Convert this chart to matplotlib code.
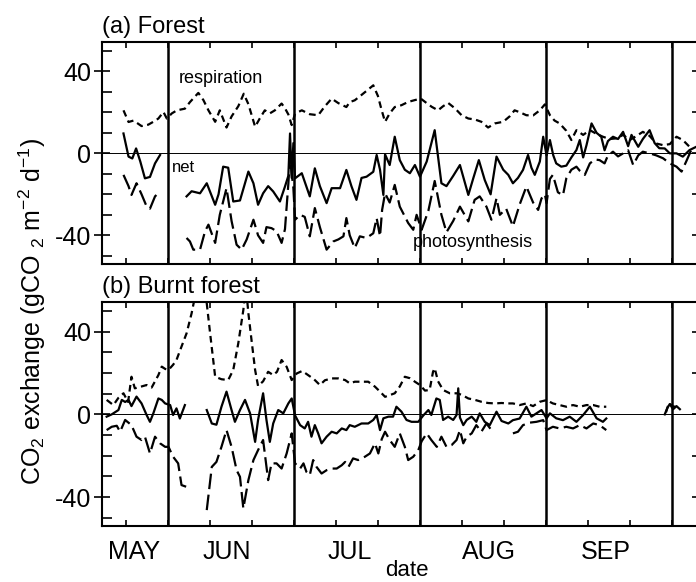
import numpy as np
import matplotlib
matplotlib.use("Agg")
import matplotlib.pyplot as plt
import matplotlib.transforms as mtransforms

plt.rcParams['font.family'] = ['Liberation Sans', 'DejaVu Sans']
plt.rcParams['mathtext.default'] = 'regular'
plt.rcParams['axes.unicode_minus'] = False

nan = np.nan

# x = day of year, month boundaries every 30 days
month_lines = [150, 180, 210, 240, 270]
month_names = ['MAY', 'JUN', 'JUL', 'AUG', 'SEP']
month_pos = [142.0, 164.1, 193.3, 226.4, 254.2]

# ---- (a) Forest ----
fa_resp_day = [139.5, 140.7, 141.9, 143.8, 145.4, 146.6, 147.8, 149.0, 149.8, 151.0,
               152.2, 154.1, 155.3, 157.3, 158.5, 159.7, 161.3, 162.4, 164.0, 165.2,
               166.8, 168.1, 169.2, 170.8, 171.9, 173.1, 174.3, 175.5, 177.1, 177.9,
               178.7, 179.5, 180.3, 181.9, 183.8, 185.8, 187.4, 189.0, 190.6, 192.5,
               193.3, 194.5, 196.1, 197.3, 198.9, 200.0, 200.9, 201.7, 202.8, 204.0,
               205.6, 207.2, 208.8, 210.2, 211.6, 212.8, 214.3, 215.5, 216.7, 218.3,
               219.9, 221.5, 223.1, 224.6, 226.2, 227.8, 229.8, 231.3, 232.5, 233.8,
               235.3, 236.9, 238.5, 239.7, 240.9, 242.0, 243.2, 244.8, 246.0, 247.2,
               248.8, 250.4, 252.0, 253.5, 255.1, 256.7, 258.3, 259.9, 261.5, 263.0,
               264.6, 266.2, 267.8, 269.4, 271.0, 272.5, 274.1]
fa_resp = [21, 15.3, 16, 13.3, 14, 15.4, 17, 20.2, 17, 19.5,
           21, 21.8, 25, 29.5, 26, 21, 15.4, 21, 12.6, 18,
           23, 29.1, 24, 13, 17, 21, 19.5, 21, 24.3, 22,
           19, 13.8, 19.4, 21, 19.1, 18.6, 23, 26.7, 24.5, 22.6,
           25, 25.9, 28.5, 30.5, 33.2, 28, 21, 15.4, 19.5, 22.6,
           23.5, 25.1, 26, 26.7, 24.5, 22.7, 21, 23, 24.6, 22,
           18.6, 17, 16.5, 15.4, 12.6, 14.6, 15.4, 18, 21, 20,
           18.6, 18.5, 21, 23.9, 18.6, 16, 14.6, 11, 6.5, 11.3,
           9, 11.3, 9.5, 8.1, 7, 7.3, 9, 6.5, 8.5, 10.5,
           8.5, 4.8, 4, 4.5, 8.1, 6.5, 3.2]

fa_net_day = [139.5, 140.7, 141.6, 142.5, 143.5, 144.6, 145.8, 147.0, 148.2, 151.0,
              154.5, 155.7, 157.7, 159.3, 161.3, 162.1, 163.2, 164.4, 165.6, 167.2,
              169.2, 170.4, 171.5, 172.7, 173.9, 175.1, 176.7, 177.9, 178.7, 179.1,
              179.5, 179.9, 180.3, 181.9, 183.8, 185.0, 186.2, 187.8, 189.0, 191.0,
              192.5, 193.7, 194.9, 196.1, 197.3, 198.9, 199.7, 200.5, 201.3, 201.7,
              202.8, 204.0, 205.2, 206.4, 207.6, 208.8, 210.0, 211.6, 213.5, 215.1,
              216.3, 217.9, 219.5, 221.5, 222.7, 224.0, 225.4, 226.8, 228.2, 229.8,
              231.0, 232.1, 233.3, 234.5, 235.7, 236.5, 237.3, 238.5, 239.3, 240.1,
              240.9, 241.7, 242.4, 243.6, 244.8, 246.0, 247.2, 248.0, 248.8, 249.6,
              250.8, 252.0, 253.1, 253.9, 254.7, 255.9, 257.1, 258.3, 259.5, 260.3,
              261.9, 263.0, 264.6, 265.8, 266.9, 268.2, 269.4, 271.0, 272.5, 274.1,
              275.5]
fa_net = [9.7, -1.6, -2.5, 2.4, -4, -12.2, -11.5, -4.9, -0.8, nan,
          -21, -18.5, -19.5, -14.6, -25.1, -20, -6.5, -7, -23.5, -23,
          -8.9, -14.6, -25.1, -19.5, -16, -18.6, -23.5, -16.2, -11, 9.7,
          -12, 5, -12.2, -9.7, -21, -7.3, -16, -24.3, -17, -17,
          -8.1, -16, -22.7, -12, -11.4, -9, -0.8, -8, -20.3, -0.5,
          -5.7, 8.1, -3.3, -8, -9.7, -5.7, -11.4, -4, 11.3, -14.6,
          -16, -11, -5.7, -20.3, -12, -3.3, -13, -20, -1.6, -8,
          -10.5, -14.6, -12, -8.1, -0.8, -7, -10.5, -4, 8.1, -1,
          6.5, -1, -4.9, -6.5, -6, -2, 1.6, 6.5, -2, 4,
          14.6, 10, 8.1, 1.5, 6, 8.1, 7, 10.5, 3.5, 9,
          3.2, 7, 11.3, 5, 2.5, 2.4, 0, 0, -1.6, 1.6,
          3]

fa_phot_day = [139.5, 140.7, 141.4, 142.6, 143.8, 145.0, 145.8, 147.0, 148.2, 151.0,
               154.5, 155.3, 156.1, 157.7, 158.9, 159.7, 161.3, 162.4, 164.0, 165.2,
               166.4, 167.6, 168.8, 170.4, 171.5, 172.7, 173.5, 174.7, 175.9, 177.1,
               177.9, 178.7, 179.1, 179.5, 179.9, 180.3, 181.5, 182.6, 183.8, 185.0,
               186.2, 187.8, 189.4, 190.6, 191.8, 192.5, 193.3, 194.5, 195.7, 197.3,
               198.9, 199.7, 200.5, 201.0, 201.7, 202.8, 204.0, 205.2, 206.2, 207.2,
               208.4, 209.2, 210.4, 212.0, 213.5, 215.1, 216.3, 217.9, 219.5, 221.5,
               223.0, 224.2, 225.8, 227.0, 228.2, 229.0, 230.5, 232.1, 233.7, 235.3,
               236.9, 238.1, 238.9, 239.7, 240.1, 240.9, 241.6, 242.8, 244.0, 244.8,
               246.0, 247.2, 248.0, 249.2, 250.4, 251.6, 252.7, 253.9, 254.7, 255.9,
               257.1, 258.3, 259.5, 260.7, 261.9, 263.0, 264.6, 266.2, 267.8, 269.4,
               271.0, 272.2, 273.3, 274.5]
fa_phot = [-10.5, -16, -20.3, -14.6, -20, -25.9, -27, -21, -18.6, nan,
           -41.3, -43, -47, -47, -38, -34.8, -43.7, -30, -17, -33,
           -44.6, -47, -42, -32.4, -40, -43.7, -36, -36.5, -38, -43.7,
           -37, -15, -1.6, -10, -17, -32.4, -30, -31, -40.5, -26.7,
           -36, -47, -43, -42, -40.5, -31.6, -40, -46.2, -40.5, -41.3,
           -39, -31.6, -40.5, -27.6, -19.5, -24, -15.4, -26, -30, -34,
           -37.3, -30, -37.3, -28, -13.5, -30, -38.5, -33, -26, -33.2,
           -22.7, -21, -26, -32.4, -21.9, -30, -27, -35.6, -25, -16.2,
           -24, -27.6, -22, -20, -24.3, -12.5, -10.5, -19, -20.5, -12.2,
           -8, -6.5, -8.5, -10.5, -4.9, -3, -3.3, -4.9, -1, 0.8,
           -1.5, 0, 1.5, -5.7, -1, 0.8, 0, -1, -2.4, -4.9,
           -6.5, -8.9, -4, 1.6]

# ---- (b) Burnt forest ----
fb_resp_day = [135.5, 137.1, 138.3, 139.5, 140.6, 141.4, 142.2, 143.8, 145.0, 146.2,
               147.0, 147.8, 148.6, 149.4, 150.2, 151.3, 152.1, 153.3, 154.5, 155.7,
               157.0, 158.0, 159.3, 160.1, 161.3, 162.8, 164.4, 165.6, 166.8, 168.0,
               168.6, 169.2, 170.0, 170.8, 171.5, 172.7, 173.9, 175.1, 176.0, 177.1,
               178.3, 179.5, 180.7, 182.0, 183.4, 184.8, 186.2, 187.4, 189.0, 190.6,
               192.2, 193.3, 194.5, 196.1, 197.7, 199.3, 200.5, 201.7, 202.8, 204.0,
               205.2, 206.4, 207.6, 208.8, 210.0, 211.2, 212.3, 213.1, 213.5, 214.3,
               215.5, 217.1, 218.7, 219.9, 221.5, 223.1, 224.6, 226.2, 227.8, 229.4,
               231.0, 232.1, 233.7, 235.3, 236.9, 238.5, 240.1, 241.6, 243.2, 244.8,
               246.4, 248.0, 249.6, 251.2, 252.7, 254.3, 262.0, 268.5, 269.2, 270.0,
               271.0]
fb_resp = [7, 4.5, 8, 10.2, 6, 18.2, 12.6, 13.5, 14.2, 13,
           16, 19, 23.1, 22, 21.5, 24, 26.3, 32.8, 39.2, 48.9,
           62, 66, 53.7, 39.2, 18.2, 17, 16.6, 21.5, 34.4, 50.5,
           62, 48.9, 35, 21.5, 13.7, 16, 20.6, 19, 20.6, 26.3,
           23, 16.6, 19.8, 21, 19, 17, 14.2, 16.5, 17.4, 17.4,
           16.6, 15, 15.8, 15.8, 15.8, 13.4, 11, 8.5, 9.3, 10.2,
           13.5, 18.2, 17.5, 15.8, 14.2, 11.5, 11.8, 20.6, 22.3, 16,
           11.8, 10.2, 10.2, 9.5, 7.7, 7, 6.1, 5.5, 5.3, 5.5,
           5.3, 5.3, 4.5, 5.3, 4, 6.1, 6.9, 5.3, 4.5, 3.7,
           4.5, 3.7, 4.5, 4.5, 3.7, 3.7, nan, 1, 5.5, 4,
           3.5]

fb_net_day = [135.5, 136.7, 138.3, 139.1, 139.9, 140.7, 141.4, 142.6, 143.8, 145.0,
              145.8, 146.6, 147.8, 148.6, 149.4, 150.6, 151.3, 152.1, 152.9, 154.1,
              156.5, 159.3, 160.5, 161.6, 162.8, 164.0, 165.2, 166.0, 167.2, 168.4,
              169.6, 170.8, 171.5, 172.7, 173.5, 174.3, 175.1, 176.3, 177.5, 178.7,
              179.5, 180.3, 181.5, 182.6, 183.4, 184.2, 185.0, 185.8, 186.6, 187.8,
              189.0, 190.2, 191.4, 192.5, 193.3, 194.5, 196.1, 197.7, 198.9, 199.7,
              200.5, 201.3, 202.5, 203.6, 204.4, 205.6, 206.8, 208.0, 209.6, 210.8,
              212.0, 212.7, 213.9, 214.7, 215.5, 216.7, 217.9, 218.7, 219.1, 219.5,
              220.3, 221.1, 222.3, 223.4, 224.2, 225.4, 226.6, 228.2, 229.4, 231.0,
              232.1, 233.7, 235.3, 236.5, 237.7, 238.9, 240.1, 240.9, 242.4, 244.0,
              245.6, 247.2, 248.8, 250.4, 252.0, 253.5, 254.3, 262.0, 268.2, 268.8,
              269.4, 270.2, 271.0, 271.8]
fb_net = [-1.1, 0, 2.1, 7, 6, 7, 4, 8.6, 5.3, -0.3,
          -3.6, 0.5, 7.7, 7, 5.3, 4.5, -0.3, 2.9, -2, 4.5,
          nan, 2.1, -4.4, -5, 3.7, 11, 2.1, -3.6, 2.1, 7,
          0.5, -13.3, -2.7, 10.2, -2.7, -13.3, -4.4, 2.1, 0.5, 5.3,
          7.7, -0.5, -5.2, -6.8, -3.6, -10.8, -5.2, -9.2, -14, -10.8,
          -8.4, -9.2, -6.8, -7.6, -5.2, -6, -4.4, -4.4, -2.7, -0.3,
          -7.6, -1.9, -1.1, -1.1, 3.7, 1.3, -2.7, -3.6, -3.6, -0.5,
          2.1, -0.3, 7.7, 7, -2.7, -1.1, -2.7, -0.3, 12.6, -1.5,
          -5.2, -2.7, -1.1, -3.6, 0.5, -3.6, -5.2, 1.3, -3.2, -4.4,
          -2.8, -2, 3.7, -1.1, 0.5, 2.1, -1.9, 0.5, -1.9, -2.8,
          -1.1, -3.6, -0.3, 3.7, -1.9, -3.6, -2, nan, 0, 3,
          5, 2.5, 4, 2.5]

fb_phot_day = [135.5, 136.7, 137.9, 138.7, 139.9, 141.4, 142.6, 143.8, 144.6, 145.8,
               147.0, 148.2, 149.4, 150.2, 151.3, 152.5, 153.3, 154.4, 156.5, 159.3,
               160.5, 161.6, 162.8, 164.0, 165.2, 166.4, 167.2, 168.0, 169.2, 170.4,
               171.5, 172.7, 173.9, 174.7, 175.9, 177.1, 178.3, 179.5, 180.3, 181.5,
               182.3, 183.0, 183.8, 184.6, 185.4, 186.6, 187.8, 189.0, 190.2, 191.4,
               192.2, 193.0, 194.1, 195.3, 196.9, 198.1, 199.3, 200.1, 200.9, 201.7,
               202.8, 204.0, 205.2, 206.4, 207.2, 208.4, 209.6, 210.4, 211.6, 212.7,
               214.0, 215.1, 216.3, 217.5, 218.7, 219.5, 220.3, 221.1, 222.3, 223.4,
               224.6, 225.8, 227.0, 229.5, 232.1, 233.3, 234.5, 236.1, 237.7, 239.3,
               240.1, 241.6, 243.2, 244.8, 246.4, 248.0, 249.6, 251.2, 252.7, 254.3]
fb_phot = [-7.6, -6, -5.5, -8.4, -2.7, -5.2, -10.8, -12.4, -10.8, -18.9,
           -10.8, -14, -15.7, -15.7, -20.5, -23.7, -34.2, -35, nan, -46.3,
           -25.4, -23, -15.7, -7.6, -15.7, -27, -30.2, -45.5, -31.8, -22.1,
           -17.3, -12.4, -31.8, -23.7, -23.7, -26.2, -18.9, -9.2, -23.7, -26.2,
           -23.7, -27.8, -29.4, -22.1, -25.4, -28.6, -27, -26.2, -26.2, -24.6,
           -23, -25.4, -21.3, -22.1, -20.5, -18.9, -14, -18.9, -12, -8.4,
           -12.4, -15.7, -9.2, -15.7, -22.1, -20.5, -17.3, -13, -9.2, -12.4,
           -15.7, -10.8, -15.7, -14.9, -12.4, -7.6, -14, -10.8, -9.2, -5.2,
           -8.4, -4.4, -7.6, nan, -9.2, -8.4, -5.2, -4, -3.6, -2.8,
           -7.6, -6, -6.8, -6, -6.8, -5.2, -6.8, -4.4, -5.2, -7.6]

fig = plt.figure(figsize=(6.96, 5.82), dpi=100)
ax1 = fig.add_axes([0.1466, 0.5464, 0.8556, 0.382])
ax2 = fig.add_axes([0.1466, 0.0962, 0.8556, 0.3854])

panels = [
    (ax1, '(a) Forest', fa_resp_day, fa_resp, fa_net_day, fa_net, fa_phot_day, fa_phot),
    (ax2, '(b) Burnt forest', fb_resp_day, fb_resp, fb_net_day, fb_net, fb_phot_day, fb_phot),
]

for ax, title, rd, rv, nd, nv, pd, pv in panels:
    ax.plot(rd, rv, color='black', lw=1.6, dashes=(3, 2))
    ax.plot(nd, nv, color='black', lw=1.6)
    ax.plot(pd, pv, color='black', lw=1.6, dashes=(7, 2.5))
    ax.axhline(0, color='black', lw=0.7)
    for d in month_lines:
        ax.axvline(d, color='black', lw=1.8)
    ax.set_xlim(134.4, 276)
    ax.set_ylim(-54, 54.5)
    ax.set_xticks(range(140, 271, 10))
    ax.tick_params(axis='x', direction='in', top=True, bottom=True, length=4,
                   width=1.2, labelbottom=False)
    ax.set_yticks([-40, 0, 40])
    ax.set_yticks(range(-50, 51, 10), minor=True)
    ax.tick_params(axis='y', which='major', direction='inout', length=12,
                   width=1.2, labelsize=18, pad=2)
    ax.tick_params(axis='y', which='minor', direction='in', length=7, width=1.2)
    sec = ax.secondary_yaxis('right')
    sec.set_yticks([-40, -20, 0, 20, 40])
    sec.tick_params(direction='in', length=4, width=1.2, labelright=False)
    for s in ax.spines.values():
        s.set_linewidth(1.5)
    ax.text(0.0, 1.018, title, transform=ax.transAxes, ha='left', va='bottom',
            fontsize=17)

ax1.text(152.7, 36.5, 'respiration', fontsize=13, ha='left', va='center')
ax1.text(151.0, -7.0, 'net', fontsize=12, ha='left', va='center')
ax1.text(208.3, -43.6, 'photosynthesis', fontsize=13, ha='left', va='center')

trans = mtransforms.blended_transform_factory(ax2.transData, ax2.transAxes)
for name, pos in zip(month_names, month_pos):
    ax2.text(pos, -0.116, name, transform=trans, ha='center', va='center',
             fontsize=18)
ax2.text(206.9, -0.2, 'date', transform=trans, ha='center', va='center',
         fontsize=16)

fig.text(0.047, 0.465, r'CO$_2$ exchange (gCO $_2$ m$^{-2}$ d$^{-1}$)',
         rotation=90, ha='center', va='center', fontsize=18)

fig.savefig('out.png', dpi=100)
